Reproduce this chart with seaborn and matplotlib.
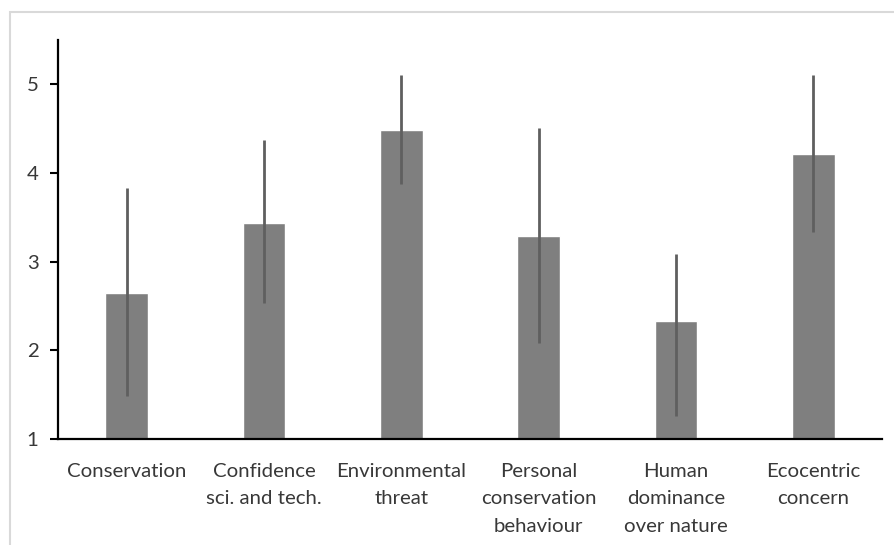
import matplotlib
matplotlib.use('Agg')
import matplotlib.pyplot as plt
import seaborn as sns
import pandas as pd
from matplotlib.patches import Rectangle

categories = ['Conservation', 'Confidence\nsci. and tech.', 'Environmental\nthreat',
              'Personal\nconservation\nbehaviour', 'Human\ndominance\nover nature',
              'Ecocentric\nconcern']
means = [2.65, 3.44, 4.49, 3.29, 2.33, 4.21]
err_low = [1.16, 0.91, 0.61, 1.21, 1.07, 0.88]
err_high = [1.18, 0.93, 0.62, 1.22, 0.76, 0.89]


def main():
    df = pd.DataFrame({'category': categories, 'mean': means})

    sns.set_style('white')
    plt.rcParams['font.family'] = ['Lato', 'DejaVu Sans']

    fig = plt.figure(figsize=(8.94, 5.45), dpi=100)
    ax = fig.add_axes([58 / 894, 1 - 439 / 545, (882 - 58) / 894, (439 - 40) / 545])

    sns.barplot(x='category', y='mean', data=df, color='#7f7f7f', width=0.31,
                errorbar=None, saturation=1, ax=ax)
    ax.errorbar(range(len(categories)), means, yerr=[err_low, err_high], fmt='none',
                ecolor='#5f5f5f', elinewidth=2, capsize=0)

    ax.set_ylim(1, 5.5)
    ax.set_xlim(-0.5, len(categories) - 0.5)
    ax.set_yticks([1, 2, 3, 4, 5])
    ax.set_xlabel('')
    ax.set_ylabel('')

    # category boundary ticks, like Excel
    ax.set_xticks(range(len(categories)))
    ax.set_xticklabels(categories, linespacing=1.75)
    ax.set_xticks([i - 0.5 for i in range(len(categories) + 1)], minor=True)
    ax.tick_params(axis='x', which='minor', length=6, width=1.5, color='black', direction='out')
    ax.tick_params(axis='x', which='major', length=0, pad=17, labelsize=14.7, labelcolor='#383838')
    ax.tick_params(axis='y', length=6, width=1.5, color='black', direction='out', left=True,
                   pad=8, labelsize=14.7, labelcolor='#383838')

    for side in ['top', 'right']:
        ax.spines[side].set_visible(False)
    for side in ['left', 'bottom']:
        ax.spines[side].set_color('black')
        ax.spines[side].set_linewidth(1.6)

    # chart area border (cut off at right and bottom)
    fig.patches.append(Rectangle((10 / 894, -0.05), 1.2, 1 - 12 / 545 + 0.05,
                                 transform=fig.transFigure, fill=False,
                                 edgecolor='#d9d9d9', linewidth=1.5))

    fig.savefig('out.png', dpi=100)


if __name__ == "__main__":
    main()
